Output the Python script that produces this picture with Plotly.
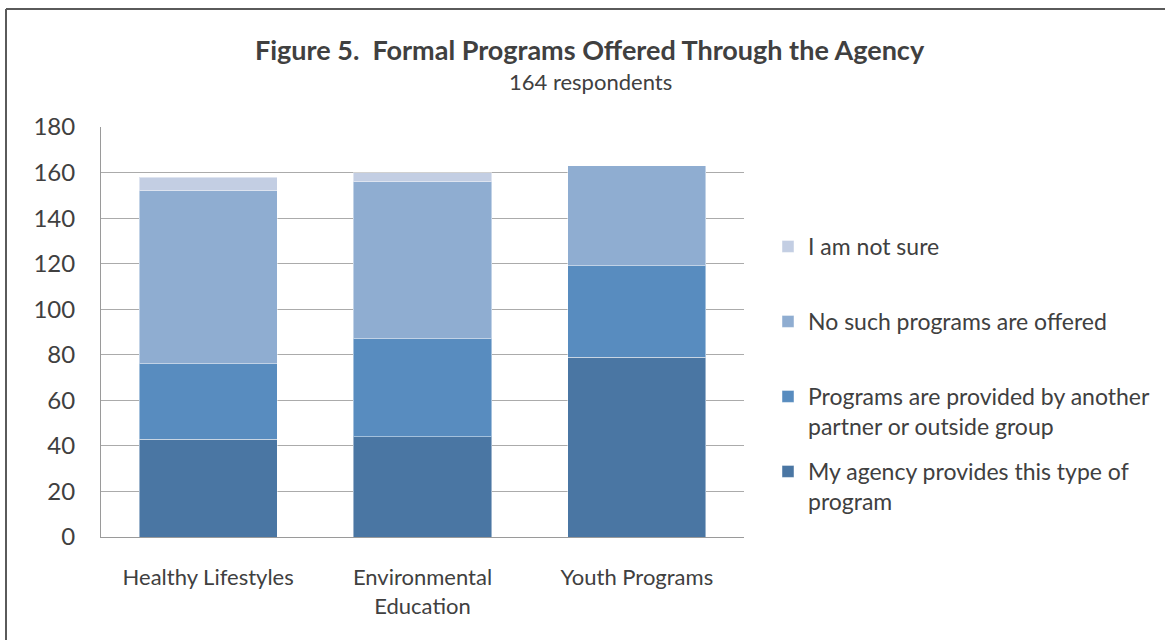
import plotly.graph_objects as go

categories = ["Healthy Lifestyles", "Environmental<br>Education", "Youth Programs"]
series_names = [
    "My agency provides this type of<br>program",
    "Programs are provided by another<br>partner or outside group",
    "No such programs are offered",
    "I am not sure",
]
agency = [43, 44, 79]
partner = [33, 43, 40]
no_such = [76, 69, 44]
not_sure = [6, 4, 0]
colors = ["#4A76A3", "#588CBF", "#8FADD1", "#C3CEE3"]
y_ticks = [0, 20, 40, 60, 80, 100, 120, 140, 160, 180]

FONT = "Lato"
TXT = "#404040"

values = [agency, partner, no_such, not_sure]
legend_ids = ["legend4", "legend3", "legend2", "legend"]

fig = go.Figure()
for name, vals, col, lg in zip(series_names, values, colors, legend_ids):
    fig.add_trace(go.Bar(
        x=categories, y=vals, name=name, legend=lg,
        marker=dict(color=col, line=dict(color="rgba(255,255,255,0.45)", width=1)),
    ))

L, R, T, B = 101, 422, 127, 104
W, H = 1166, 641
pw, ph = W - L - R, H - T - B

def py(pix):
    return (H - B - pix) / ph

def px(pix):
    return (pix - L) / pw

leg_common = dict(
    bgcolor="rgba(0,0,0,0)", font=dict(family=FONT, size=23, color=TXT),
    xanchor="left", yanchor="top", valign="top", itemwidth=30,
    xref="container", yref="container",
)
legend_tops = {"legend": 225, "legend2": 300, "legend3": 375, "legend4": 450}

fig.update_layout(
    width=W, height=H,
    margin=dict(l=L, r=R, t=T, b=B, autoexpand=False),
    paper_bgcolor="white", plot_bgcolor="white",
    barmode="stack", bargap=0.355,
    font=dict(family=FONT, color=TXT),
    yaxis=dict(
        range=[0, 180], tickvals=y_ticks, showgrid=True, gridcolor="#ABABAB", gridwidth=1,
        showline=True, linecolor="#9A9A9A", linewidth=1, ticks="",
        tickfont=dict(family=FONT, size=24, color=TXT), ticklabelstandoff=20,
        zeroline=False,
    ),
    xaxis=dict(
        showline=True, linecolor="#9A9A9A", linewidth=1, ticks="",
        tickfont=dict(family=FONT, size=22, color=TXT), ticklabelstandoff=21,
    ),
    showlegend=True,
)
for lg, top in legend_tops.items():
    fig.update_layout({lg: dict(leg_common, x=768 / W, y=1 - top / H)})

fig.add_annotation(
    text="<b>Figure 5.  Formal Programs Offered Through the Agency</b>",
    xref="paper", yref="paper", x=px(590), y=py(49), xanchor="center", yanchor="middle",
    showarrow=False, font=dict(family=FONT, size=27, color=TXT),
)
fig.add_annotation(
    text="164 respondents",
    xref="paper", yref="paper", x=px(590), y=py(82), xanchor="center", yanchor="middle",
    showarrow=False, font=dict(family=FONT, size=22, color=TXT),
)
# outer frame (left and top edges visible in the reference)
fig.add_shape(type="line", xref="paper", yref="paper",
              x0=px(6), x1=px(6), y0=py(640), y1=py(9),
              line=dict(color="#5A5A5A", width=2), layer="above")
fig.add_shape(type="line", xref="paper", yref="paper",
              x0=px(6), x1=px(1165), y0=py(9), y1=py(9),
              line=dict(color="#5A5A5A", width=2), layer="above")

fig.write_html(
    "out.html",
    config={"displayModeBar": False},
    post_script="document.body.style.margin='0';document.body.style.overflow='hidden';",
)
